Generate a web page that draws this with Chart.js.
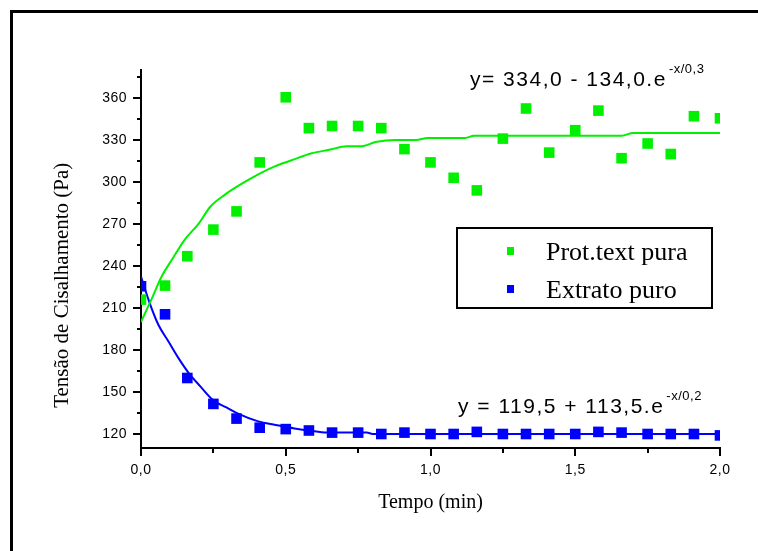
<!DOCTYPE html>
<html><head><meta charset="utf-8">
<script src="https://cdn.jsdelivr.net/npm/chart.js@4/dist/chart.umd.min.js"></script>
<style>html,body{margin:0;padding:0;background:#fff;}canvas{display:block;}</style>
</head><body>
<canvas id="c" width="758" height="551"></canvas>
<script>
// ---- data ----
const timeMin = [0, 0.083, 0.16, 0.25, 0.33, 0.41, 0.5, 0.58, 0.66, 0.75, 0.83, 0.91, 1.0, 1.08, 1.16, 1.25, 1.33, 1.41, 1.5, 1.58, 1.66, 1.75, 1.83, 1.91, 2.0];
const protTextPura = [216, 226, 247, 266, 279, 314, 360.5, 338.5, 340, 340, 338.5, 323.5, 314, 303, 294, 331, 352.5, 321, 337, 351, 317, 327.5, 320, 347, 345.5];
const extratoPuro = [225.5, 205.5, 160, 141.5, 131, 124.5, 123.5, 122.5, 121, 121, 120, 121, 120, 120, 121.5, 120, 120, 120, 120, 121.5, 121, 120, 120, 120, 119];
const fitProtX = [0, 0.04, 0.07, 0.11, 0.15, 0.2, 0.24, 0.29, 0.35, 0.405, 0.46, 0.52, 0.59, 0.65, 0.71, 0.76, 0.81, 0.88, 0.95, 0.99, 1.12, 1.15, 1.66, 1.70, 2.0];
const fitProtY = [200, 218, 232, 245.5, 258.5, 270.5, 282.5, 291, 299, 305.5, 311, 315.5, 320.5, 323, 325.5, 325.5, 328.5, 330, 330, 331.5, 331.5, 333, 333, 335, 335];
const fitExtX = [0, 0.03, 0.06, 0.095, 0.13, 0.165, 0.205, 0.25, 0.295, 0.335, 0.405, 0.465, 0.53, 0.6, 0.65, 0.78, 0.8, 2.0];
const fitExtY = [232.5, 213.5, 198, 186, 174, 163.5, 154, 144, 139, 134.5, 129, 126.5, 124, 122, 121, 121, 120, 120];
const yTickValues = [120, 150, 180, 210, 240, 270, 300, 330, 360];
const yMinorValues = [135, 165, 195, 225, 255, 285, 315, 345, 375];
const xTickValues = [0, 0.5, 1.0, 1.5, 2.0];
const xMinorValues = [0.25, 0.75, 1.25, 1.75];
const seriesNames = ['Prot.text pura', 'Extrato puro'];
const eqProt = ['y= 334,0 - 134,0.e', '-x/0,3'];
const eqExt = ['y = 119,5 + 113,5.e', '-x/0,2'];
const xTitle = 'Tempo (min)';
const yTitle = 'Tensão de Cisalhamento (Pa)';

const GREEN = '#00f000', BLUE = '#0000ff';
const pts = (xs, ys) => xs.map((x, i) => ({x, y: ys[i]}));

const decorPlugin = {
  id: 'decor',
  beforeDraw(chart) {
    ['x', 'y'].forEach(id => {
      const s = chart.scales[id];
      if (s && !s._lsPatched) {
        const orig = s.drawLabels.bind(s);
        s.drawLabels = function (area) {
          const ctx = this.ctx; ctx.save(); ctx.letterSpacing = '0.5px'; orig(area); ctx.restore();
        };
        s._lsPatched = true;
      }
    });
  },
  afterDraw(chart) {
    const ctx = chart.ctx, a = chart.chartArea, xs = chart.scales.x, ys = chart.scales.y;
    ctx.save();
    // outer frame
    ctx.strokeStyle = '#000'; ctx.lineWidth = 3;
    ctx.strokeRect(11.5, 11.5, 800, 600);
    // tick marks
    ctx.lineWidth = 2;
    ctx.beginPath();
    yTickValues.forEach(v => { const p = Math.round(ys.getPixelForValue(v)); ctx.moveTo(a.left - 8, p); ctx.lineTo(a.left, p); });
    yMinorValues.forEach(v => { const p = Math.round(ys.getPixelForValue(v)); ctx.moveTo(a.left - 4, p); ctx.lineTo(a.left, p); });
    xTickValues.forEach(v => { const p = Math.round(xs.getPixelForValue(v)); ctx.moveTo(p, a.bottom); ctx.lineTo(p, a.bottom + 8); });
    xMinorValues.forEach(v => { const p = Math.round(xs.getPixelForValue(v)); ctx.moveTo(p, a.bottom); ctx.lineTo(p, a.bottom + 5); });
    ctx.stroke();
    // equations
    ctx.fillStyle = '#000';
    ctx.textBaseline = 'alphabetic'; ctx.textAlign = 'left';
    const drawEq = (eq, x, y) => {
      ctx.font = '21px "Liberation Sans", Arial, sans-serif';
      ctx.letterSpacing = '1.5px';
      ctx.fillText(eq[0], x, y);
      const w = ctx.measureText(eq[0]).width;
      ctx.font = '13px "Liberation Sans", Arial, sans-serif';
      ctx.letterSpacing = '0.5px';
      ctx.fillText(eq[1], x + w + 2, y - 13);
    };
    drawEq(eqProt, 470, 86);
    drawEq(eqExt, 458, 413);
    ctx.letterSpacing = '0px';
    // legend box
    ctx.lineWidth = 2; ctx.strokeStyle = '#000';
    ctx.strokeRect(457, 228, 255, 80);
    const items = chart.data.datasets.filter(d => d.showInLegend);
    items.forEach((d, i) => {
      const cy = 251 + i * 38;
      ctx.fillStyle = d.backgroundColor;
      ctx.fillRect(507, cy - 4, 7, 8);
      ctx.fillStyle = '#000';
      ctx.font = '26px "Liberation Serif", "Times New Roman", serif';
      ctx.fillText(d.label, 546, cy + 9);
    });
    ctx.restore();
  }
};

new Chart(document.getElementById('c'), {
  type: 'scatter',
  data: {
    datasets: [
      {label: seriesNames[0], data: pts(timeMin, protTextPura), showInLegend: true, order: 1,
       pointStyle: 'rect', pointRadius: 7.5, pointBorderWidth: 0, backgroundColor: GREEN, borderColor: GREEN, showLine: false},
      {label: seriesNames[1], data: pts(timeMin, extratoPuro), showInLegend: true, order: 1,
       pointStyle: 'rect', pointRadius: 7.5, pointBorderWidth: 0, backgroundColor: BLUE, borderColor: BLUE, showLine: false},
      {label: 'fit ' + seriesNames[0], data: pts(fitProtX, fitProtY), order: 2, showLine: true,
       pointRadius: 0, borderColor: GREEN, borderWidth: 2, cubicInterpolationMode: 'monotone'},
      {label: 'fit ' + seriesNames[1], data: pts(fitExtX, fitExtY), order: 2, showLine: true,
       pointRadius: 0, borderColor: BLUE, borderWidth: 2, cubicInterpolationMode: 'monotone'}
    ]
  },
  options: {
    responsive: false, animation: false, devicePixelRatio: 1,
    layout: {padding: {top: 70, right: 38, left: 0, bottom: 0}},
    plugins: {legend: {display: false}, tooltip: {enabled: false}},
    scales: {
      x: {
        type: 'linear', min: 0, max: 2,
        afterBuildTicks: s => { s.ticks = xTickValues.map(v => ({value: v})); },
        afterFit: s => { s.height = 103; },
        ticks: {callback: v => v.toFixed(1).replace('.', ','), color: '#000', padding: 6, maxRotation: 0, autoSkip: false,
                font: {family: '"Liberation Sans", Arial, sans-serif', size: 14}},
        grid: {display: true, drawOnChartArea: false, drawTicks: true, tickLength: 8, color: 'rgba(0,0,0,0)', tickColor: 'rgba(0,0,0,0)'},
        border: {display: true, color: '#000', width: 2},
        title: {display: true, text: xTitle, color: '#000', padding: {top: 0, bottom: 36},
                font: {family: '"Liberation Serif", "Times New Roman", serif', size: 20}}
      },
      y: {
        type: 'linear', min: 110, max: 380,
        afterBuildTicks: s => { s.ticks = yTickValues.map(v => ({value: v})); },
        afterFit: s => { s.width = 141; },
        ticks: {callback: v => String(v), color: '#000', padding: 6, autoSkip: false,
                font: {family: '"Liberation Sans", Arial, sans-serif', size: 14}},
        grid: {display: true, drawOnChartArea: false, drawTicks: true, tickLength: 8, color: 'rgba(0,0,0,0)', tickColor: 'rgba(0,0,0,0)'},
        border: {display: true, color: '#000', width: 2},
        title: {display: true, text: yTitle + '\u2002\u2002\u2002\u2002\u2002', color: '#000', padding: {top: 50, bottom: 0},
                font: {family: '"Liberation Serif", "Times New Roman", serif', size: 21}}
      }
    }
  },
  plugins: [decorPlugin]
});
</script>
</body></html>
